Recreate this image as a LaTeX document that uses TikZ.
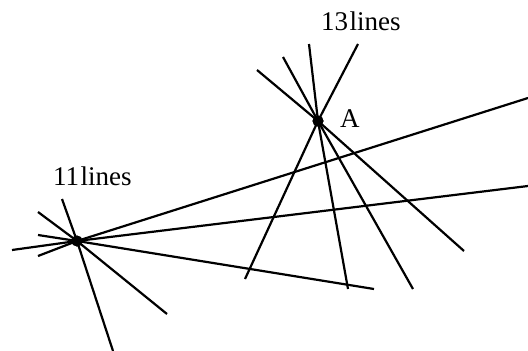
\documentclass[tikz,border=0pt]{standalone}
\usepackage{fontspec}
\setmainfont{Liberation Serif}
\begin{document}
\begin{tikzpicture}[x=1pt,y=-1pt,
  ln/.style={line width=2.2pt,black},
  dotpt/.style={circle,fill=black,inner sep=0pt,minimum size=11pt},
  lbl/.style={inner sep=0pt,anchor=base west,font=\fontsize{27}{31}\selectfont}]
\useasboundingbox (0,0) rectangle (528,351);
% points
\node[dotpt] (A) at (318,121) {};
\node[dotpt] (B) at (77,241) {};
% ends of lines through A
\coordinate (a1) at (257,70);   \coordinate (a1e) at (464,251);
\coordinate (a2) at (283,57);   \coordinate (a2e) at (413,289);
\coordinate (a3) at (309,44);   \coordinate (a3e) at (348,289);
\coordinate (a4) at (358,44);   \coordinate (a4e) at (245,279);
% ends of lines through B
\coordinate (b1) at (38,256);   \coordinate (b1e) at (528,98);
\coordinate (b2) at (12,250);   \coordinate (b2e) at (528,186);
\coordinate (b3) at (38,235);   \coordinate (b3e) at (374,289);
\coordinate (b4) at (38,212);   \coordinate (b4e) at (167,314);
\coordinate (b5) at (62,199);   \coordinate (b5e) at (113,351);
\foreach \p in {a1,a2,a3,a4} \draw[ln] (\p) -- (A.center) -- (\p e);
\foreach \p in {b1,b2,b3,b4,b5} \draw[ln] (\p) -- (B.center) -- (\p e);
\node[dotpt] at (A) {};
\node[dotpt] at (B) {};
% labels
\node[lbl] (lA) at (340,127) {A};
\node[lbl] (l13) at (321,30) {13\hspace{1.5pt}lines};
\node[lbl] (l11) at (53,185) {11\hspace{1.5pt}lines};
\end{tikzpicture}
\end{document}
